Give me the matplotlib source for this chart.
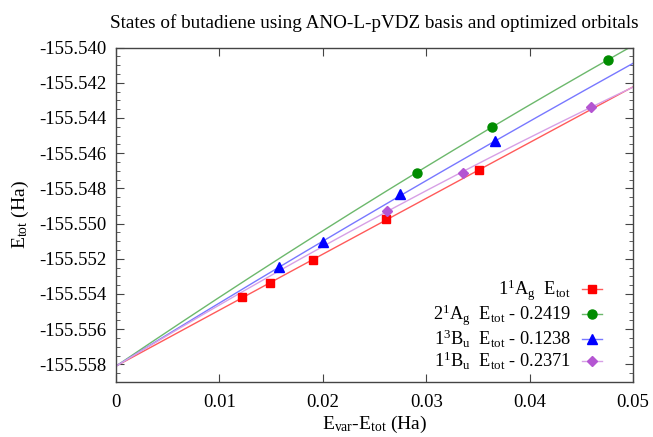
import numpy as np
import matplotlib
matplotlib.use("Agg")
import matplotlib.pyplot as plt
from matplotlib.lines import Line2D
from matplotlib.ticker import MultipleLocator, FuncFormatter

# Points (x = E_var - E_tot, y = shifted E_tot)
x_11ag = [0.01220, 0.01490, 0.01904, 0.02613, 0.03509]
y_11ag = [-155.55418, -155.55339, -155.55207, -155.54977, -155.54696]

x_21ag = [0.02908, 0.03636, 0.04755]
y_21ag = [-155.54711, -155.54451, -155.54071]

x_13bu = [0.01579, 0.02005, 0.02747, 0.03668]
y_13bu = [-155.55245, -155.55107, -155.54834, -155.54533]

x_11bu = [0.02618, 0.03353, 0.04594]
y_11bu = [-155.54928, -155.54711, -155.54338]

# common extrapolated energy where all fits meet
E0 = -155.5581

labels = [
    r"$1^1$A$_g$  E$_{tot}$",
    r"$2^1$A$_g$  E$_{tot}$ - 0.2419",
    r"$1^3$B$_u$  E$_{tot}$ - 0.1238",
    r"$1^1$B$_u$  E$_{tot}$ - 0.2371",
]

plt.rcParams["font.family"] = ["Liberation Serif", "DejaVu Serif"]
plt.rcParams["mathtext.default"] = "regular"
plt.rcParams["axes.unicode_minus"] = False


def fit_curve(xs, ys, grid):
    # quadratic with intercept held at E0
    xs = np.asarray(xs)
    ys = np.asarray(ys) - E0
    A = np.column_stack([xs, xs ** 2])
    (b, c), *_ = np.linalg.lstsq(A, ys, rcond=None)
    return E0 + b * grid + c * grid ** 2


series = [
    (x_11ag, y_11ag, "s", 5.5, "#ff0000", "#ff5a5a"),
    (x_21ag, y_21ag, "o", 6.5, "#008c00", "#6cb86c"),
    (x_13bu, y_13bu, "^", 7.0, "#0000ff", "#7878ff"),
    (x_11bu, y_11bu, "D", 4.8, "#b455d2", "#d7a0e6"),
]

fig = plt.figure(figsize=(6.53, 4.37), dpi=100)
ax = fig.add_axes([0.1776, 0.1259, 0.7918, 0.7654])

grid = np.linspace(0, 0.05, 200)
handles = []
for (xs, ys, mk, ms, mc, lc), lab in zip(series, labels):
    ax.plot(grid, fit_curve(xs, ys, grid), color=lc, lw=1.0, zorder=2)
    ax.plot(xs, ys, mk, ms=ms, color=mc, mec=mc, zorder=3)
    handles.append(Line2D([], [], color=lc, lw=1.0, marker=mk, ms=ms,
                          mfc=mc, mec=mc, label=lab))

ax.set_xlim(0, 0.05)
ax.set_ylim(-155.559, -155.540)
ax.xaxis.set_major_locator(MultipleLocator(0.01))
ax.yaxis.set_major_locator(MultipleLocator(0.002))
ax.yaxis.set_minor_locator(MultipleLocator(0.0005))
ax.xaxis.set_major_formatter(FuncFormatter(lambda v, p: "%g" % round(v, 4)))
ax.yaxis.set_major_formatter(FuncFormatter(lambda v, p: "%.3f" % v))
ax.tick_params(which="both", direction="in", top=True, right=True,
               labelsize=13.5, color="#444444")
ax.tick_params(which="major", length=6)
ax.tick_params(which="minor", length=3)
ax.tick_params(axis="x", pad=9)
ax.tick_params(axis="y", pad=7)
for sp in ax.spines.values():
    sp.set_color("#444444")
    sp.set_linewidth(1.0)

ax.set_xlabel(r"E$_{var}$-E$_{tot}$ (Ha)", fontsize=14, labelpad=2)
ax.set_ylabel(r"E$_{tot}$ (Ha)", fontsize=14, labelpad=6)
ax.set_title("States of butadiene using ANO-L-pVDZ basis and optimized orbitals",
             fontsize=13.8, pad=14)

ax.legend(handles=handles, loc="lower right", bbox_to_anchor=(0.965, -0.01),
          frameon=False, markerfirst=False, fontsize=13.2, handlelength=1.1,
          handletextpad=0.6, labelspacing=0.0, borderpad=0.2)

fig.savefig("out.png", dpi=100)
